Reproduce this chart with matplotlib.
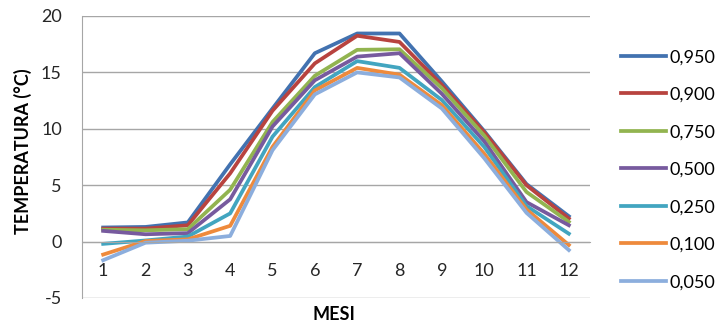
import matplotlib.pyplot as plt

plt.rcParams['font.family'] = ['Lato', 'DejaVu Sans']
plt.rcParams['axes.unicode_minus'] = False

mesi = [1, 2, 3, 4, 5, 6, 7, 8, 9, 10, 11, 12]
etichette = ["0,950", "0,900", "0,750", "0,500", "0,250", "0,100", "0,050"]

t_950 = [1.25, 1.3, 1.7, 6.85, 11.8, 16.7, 18.45, 18.45, 14.2, 9.8, 5.1, 2.25]
t_900 = [1.15, 1.15, 1.45, 6.05, 11.6, 15.8, 18.25, 17.7, 13.9, 9.7, 5.0, 2.05]
t_750 = [1.05, 1.0, 1.1, 4.6, 10.6, 14.7, 17.0, 17.05, 13.6, 9.4, 4.4, 1.75]
t_500 = [0.95, 0.65, 0.75, 3.75, 10.2, 14.3, 16.4, 16.7, 13.1, 8.9, 3.5, 1.45]
t_250 = [-0.2, 0.1, 0.45, 2.5, 9.3, 13.7, 16.0, 15.4, 12.55, 8.4, 3.15, 0.7]
t_100 = [-1.15, 0.05, 0.2, 1.4, 8.4, 13.4, 15.4, 14.8, 12.1, 7.8, 2.85, -0.3]
t_050 = [-1.65, -0.1, 0.08, 0.5, 8.1, 13.05, 15.0, 14.55, 11.8, 7.4, 2.55, -0.75]

serie = [t_950, t_900, t_750, t_500, t_250, t_100, t_050]
colori = ["#4272B0", "#B8433F", "#92B450", "#775A9E", "#42A5C0", "#EE8A3C", "#8CAEDD"]

fig = plt.figure(figsize=(7.19, 3.26), dpi=100)
ax = fig.add_axes([82 / 719, 28 / 326, 508 / 719, 282 / 326])

for valori, col, lab in zip(serie, colori, etichette):
    ax.plot(mesi, valori, color=col, linewidth=2.7, label=lab)

ax.set_xlim(0.5, 12.5)
ax.set_ylim(-5, 20)
ax.set_yticks([-5, 0, 5, 10, 15, 20])
ax.set_xticks(mesi)
ax.grid(axis='y', color='#A6A6A6', linewidth=1)
ax.set_axisbelow(True)

for s in ['top', 'right']:
    ax.spines[s].set_visible(False)
ax.spines['left'].set_color('#A6A6A6')
ax.spines['bottom'].set_color('#A6A6A6')
ax.spines['bottom'].set_position(('data', 0))

ax.tick_params(axis='x', length=0, pad=15.5, labelsize=13, colors='#262626')
ax.tick_params(axis='y', length=0, pad=14.5, labelsize=13, colors='#262626')

ax.set_ylabel("TEMPERATURA (°C)", fontsize=13, fontweight='bold', va='center')
ax.yaxis.set_label_coords(-0.116, 0.52)
fig.text(334 / 719, 1 - 315 / 326, "MESI", fontsize=13, fontweight='bold',
         ha='center', va='center')

fig.legend(loc='upper left', bbox_to_anchor=(605 / 719, 1 - 33 / 326), frameon=False,
           fontsize=13, handlelength=2.5, handletextpad=0.15, labelspacing=1.19)

fig.savefig("out.png", dpi=100)
